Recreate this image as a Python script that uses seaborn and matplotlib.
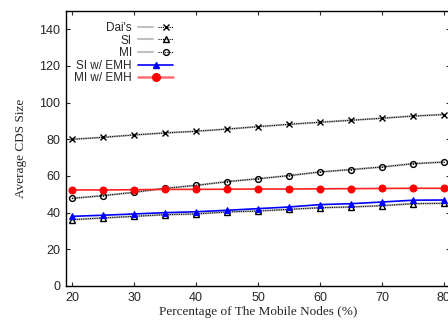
import matplotlib
matplotlib.use("Agg")
import matplotlib.pyplot as plt
import seaborn as sns
import pandas as pd
from matplotlib.lines import Line2D
from matplotlib.legend_handler import HandlerTuple

x = [20, 25, 30, 35, 40, 45, 50, 55, 60, 65, 70, 75, 80]
dais = [80.0, 81.1, 82.4, 83.5, 84.4, 85.6, 86.9, 88.2, 89.3, 90.4, 91.5, 92.7, 93.5]
si = [36.2, 37.1, 38.0, 38.9, 39.3, 40.4, 40.9, 41.8, 42.7, 43.1, 43.8, 44.9, 45.1]
mi = [47.8, 49.3, 51.1, 53.3, 54.9, 56.9, 58.5, 60.2, 62.2, 63.5, 64.9, 66.7, 67.6]
si_emh = [38.0, 38.6, 39.3, 40.0, 40.5, 41.3, 42.2, 43.1, 44.4, 44.9, 45.8, 46.8, 46.9]
mi_emh = [52.4, 52.4, 52.5, 52.7, 52.7, 52.8, 52.9, 52.9, 53.0, 53.1, 53.2, 53.3, 53.3]
labels = ["Dai's", "SI", "MI", "SI w/ EMH", "MI w/ EMH"]

sns.set_style("ticks")
plt.rcParams['font.family'] = ['Liberation Sans', 'DejaVu Sans']

fig = plt.figure(figsize=(4.48, 3.25), dpi=100)
ax = fig.add_axes([66/448, 39/325, 384/448, 275/325])

df = pd.DataFrame({"x": x, "dais": dais, "si": si, "mi": mi, "si_emh": si_emh, "mi_emh": mi_emh})

handles = []
black_specs = [("dais", "x", "black"), ("si", "^", "none"), ("mi", "o", "none")]
ms = 4.2
for col, mk, fc in black_specs:
    sns.lineplot(data=df, x="x", y=col, ax=ax, color="#c0c0c0", lw=1.5, zorder=2)
    sns.lineplot(data=df, x="x", y=col, ax=ax, color="black", lw=0.8, linestyle=(0, (1, 1)),
                 marker=mk, markersize=ms, markerfacecolor=fc, markeredgecolor="black",
                 markeredgewidth=1.0, zorder=3)
    if col == "mi":
        sns.lineplot(data=df, x="x", y=col, ax=ax, color="black", lw=0, marker=".",
                     markersize=1.5, markeredgewidth=0, zorder=4)
    g = Line2D([], [], color="#c0c0c0", lw=1.5)
    d = Line2D([], [], color="black", lw=0.8, linestyle=(0, (1, 1)), marker=mk, markersize=ms,
               markerfacecolor=fc, markeredgecolor="black", markeredgewidth=1.0)
    handles.append((g, d))

sns.lineplot(data=df, x="x", y="si_emh", ax=ax, color="blue", lw=1.2, marker="^", markersize=4.5,
             markerfacecolor="blue", markeredgecolor="blue", zorder=5)
sns.lineplot(data=df, x="x", y="mi_emh", ax=ax, color="#ff2020", lw=1.2, marker="o", markersize=5,
             markerfacecolor="red", markeredgecolor="red", zorder=5)
handles.append(Line2D([], [], color="blue", lw=1.2, marker="^", markersize=4, markerfacecolor="blue",
                      markeredgecolor="blue"))
handles.append(Line2D([], [], color="#ff7070", lw=1.8, marker="o", markersize=5.5, markerfacecolor="red",
                      markeredgecolor="red"))

ax.set_xlim(19, 81)
ax.set_ylim(0, 150)
ax.set_xticks([20, 30, 40, 50, 60, 70, 80])
ax.set_yticks(range(0, 141, 20))
ax.tick_params(direction="in", length=3, width=0.8, labelsize=9, top=True, right=True, pad=4)
for s in ax.spines.values():
    s.set_linewidth(1.0)
    s.set_color("black")

serif = ['Liberation Serif', 'DejaVu Serif']
ax.set_xlabel("Percentage of The Mobile Nodes (%)", family=serif, fontsize=9.5, labelpad=2)
ax.set_ylabel("Average CDS Size", family=serif, fontsize=9.5, labelpad=9)

leg = ax.legend(handles, labels, handler_map={tuple: HandlerTuple(ndivide=None)},
                loc="upper left", bbox_to_anchor=(0.0, 0.99), markerfirst=False,
                frameon=False, fontsize=8.5, handlelength=3.0, handletextpad=0.5,
                labelspacing=0.05, borderaxespad=0.3)

fig.savefig("out.png", dpi=100)
